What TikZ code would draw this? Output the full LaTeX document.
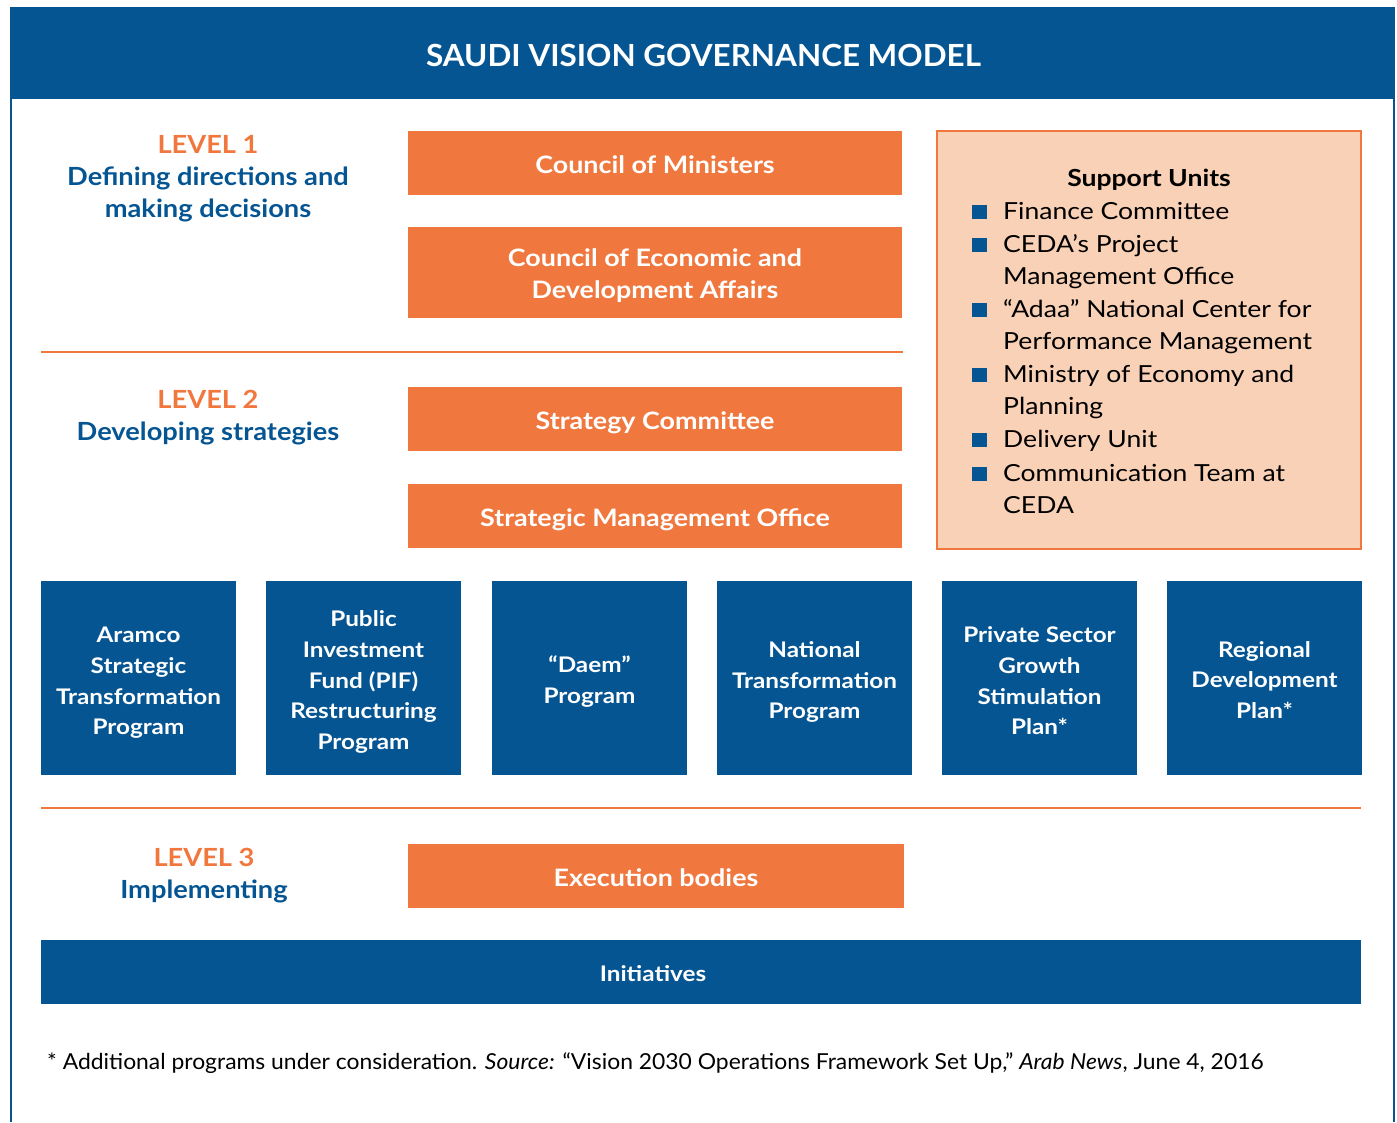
\documentclass[tikz,border=0pt]{standalone}
\usepackage{fontspec}
\setmainfont{Lato}
\newfontfamily\ofont{Lato}[FakeStretch=1.12]
\newfontfamily\lfont{Lato}[FakeStretch=1.09]
\newfontfamily\sfont{Lato}[FakeStretch=1.13]
\newfontfamily\bfont{Lato}[FakeStretch=1.13]
\newfontfamily\tfont{Lato}[FakeStretch=1.03]
\newfontfamily\ffont{Lato}[FakeStretch=1.04]
\definecolor{vblue}{RGB}{5,85,147}
\definecolor{vorange}{RGB}{240,120,62}
\definecolor{vpeach}{RGB}{249,209,182}
\tikzset{
  obox/.style={fill=vorange, draw=none, text=white, inner sep=0pt, align=center,
    font=\ofont\bfseries\fontsize{24}{32}\selectfont, minimum width=494pt},
  oline/.style={text height=22pt, text depth=0.7pt},
  otext/.style={text=white, inner sep=0pt, align=center, font=\ofont\bfseries\fontsize{24}{32}\selectfont},
  bbox/.style={fill=vblue, draw=none, inner sep=0pt, minimum width=195pt, minimum height=194pt},
  btext/.style={text=white, inner sep=0pt, align=center, font=\bfont\bfseries\fontsize{21.5}{30.7}\selectfont},
  lvl/.style={text=vblue, align=center, inner sep=0pt, font=\lfont\bfseries\fontsize{25}{32}\selectfont},
  sep/.style={draw=vorange, line width=2pt},
  item/.style={anchor=base west, inner sep=0pt, font=\sfont\fontsize{23.5}{32}\selectfont, text=black},
}
\begin{document}
\begin{tikzpicture}[x=1pt,y=-1pt]
\useasboundingbox (0,0) rectangle (1397,1122);
% frame
\draw[vblue, line width=2pt] (11,7) -- (11,1122);
\draw[vblue, line width=2pt] (1394,7) -- (1394,1122);
\node[fill=vblue, minimum width=1385pt, minimum height=92pt, inner sep=0pt] (hdr) at (702.5,53) {};
\node[text=white, inner sep=0pt, font=\tfont\bfseries\fontsize{30.5}{36}\selectfont] (title) at ([xshift=1pt,yshift=-2pt]hdr.center) {SAUDI VISION GOVERNANCE MODEL};
% level labels
\node[lvl] (lv1) at (208,179) {{\color{vorange}LEVEL 1}\\Defining directions and\\making decisions};
\node[lvl] (lv2) at (208,418) {{\color{vorange}LEVEL 2}\\Developing strategies};
\node[lvl] (lv3) at (204,876) {{\color{vorange}LEVEL 3}\\Implementing};
% level 1 boxes
\node[obox, oline, minimum height=64pt] (com) at (655,163) {Council of Ministers};
\node[obox, minimum height=91pt] (ceda) at (655,272.5) {};
\node[otext] (cedat) at ([yshift=-3pt]ceda.center) {Council of Economic and\\Development Affairs};
\draw[sep] (41,352) -- (903,352);
% level 2 boxes
\node[obox, oline, minimum height=64pt] (sc) at (655,419) {Strategy Committee};
\node[obox, oline, minimum height=64pt] (smo) at (655,516) {Strategic Management Office};
% support units
\node[fill=vpeach, draw=vorange, line width=2.5pt, minimum width=424pt, minimum height=418pt, inner sep=0pt] (sup) at (1149,340) {};
\node[font=\sfont\bfseries\fontsize{23.5}{32}\selectfont, inner sep=0pt, anchor=base] (suptitle) at (1149,186) {Support Units};
\foreach \yy in {219,252,317,382,447,481}{
  \fill[vblue] (972,\yy-14.5) rectangle (987,\yy);
}
\node[item] (s1) at (1003,219) {Finance Committee};
\node[item] (s2) at (1003,252) {CEDA’s Project};
\node[item] (s2b) at (1003,284) {Management Office};
\node[item] (s3) at (1003,317) {“Adaa” National Center for};
\node[item] (s3b) at (1003,349) {Performance Management};
\node[item] (s4) at (1003,382) {Ministry of Economy and};
\node[item] (s4b) at (1003,414) {Planning};
\node[item] (s5) at (1003,447) {Delivery Unit};
\node[item] (s6) at (1003,481) {Communication Team at};
\node[item] (s6b) at (1003,513) {CEDA};
% programs
\node[bbox] (p1) at (138.5,678) {};
\node[bbox] (p2) at (363.5,678) {};
\node[bbox] (p3) at (589.5,678) {};
\node[bbox] (p4) at (814.5,678) {};
\node[bbox] (p5) at (1039.5,678) {};
\node[bbox] (p6) at (1264.5,678) {};
\node[btext] (p1t) at ([yshift=-5pt]p1.center) {Aramco\\Strategic\\Transformation\\Program};
\node[btext] (p2t) at ([yshift=-4pt]p2.center) {Public\\Investment\\Fund (PIF)\\Restructuring\\Program};
\node[btext] (p3t) at ([yshift=-3.5pt]p3.center) {“Daem”\\Program};
\node[btext] (p4t) at ([yshift=-4pt]p4.center) {National\\Transformation\\Program};
\node[btext] (p5t) at ([yshift=-3pt]p5.center) {Private Sector\\Growth\\Stimulation\\Plan*};
\node[btext] (p6t) at ([yshift=-2pt]p6.center) {Regional\\Development\\Plan*};
\draw[sep] (41,808) -- (1361,808);
% level 3
\node[obox, oline, minimum width=496pt, minimum height=64pt] (exe) at (656,876) {Execution bodies};
\node[fill=vblue, inner sep=0pt, minimum width=1320pt, minimum height=64pt] (ini) at (701,972) {};
\node[btext] (init) at (653,974) {Initiatives};
% footnote
\node[anchor=base west, inner sep=0pt, font=\ffont\fontsize{22}{26}\selectfont] (foot) at (47,1069)
  {* Additional programs under consideration. \textit{Source:} “Vision 2030 Operations Framework Set Up,” \textit{Arab News}, June 4, 2016};
\end{tikzpicture}
\end{document}
